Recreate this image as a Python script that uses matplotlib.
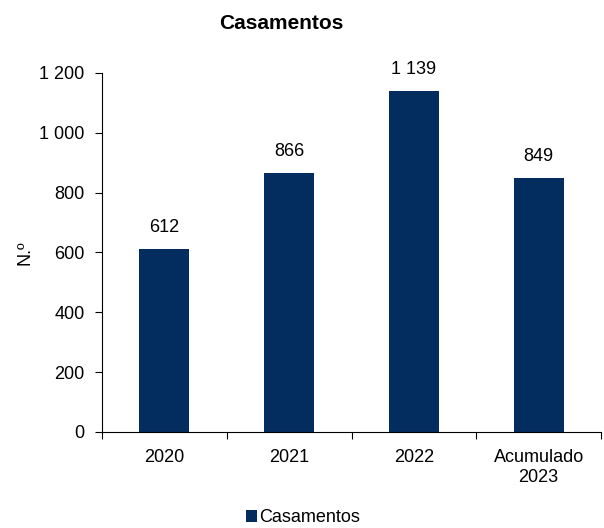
import matplotlib
matplotlib.use("Agg")
import matplotlib.pyplot as plt
import numpy as np

categories = ["2020", "2021", "2022", "Acumulado\n2023"]
values = [612, 866, 1139, 849]
labels = ["612", "866", "1 139", "849"]
yticks = [0, 200, 400, 600, 800, 1000, 1200]
ytick_labels = ["0", "200", "400", "600", "800", "1 000", "1 200"]

plt.rcParams['font.family'] = ['Liberation Sans', 'DejaVu Sans']
fs = 13

fig = plt.figure(figsize=(6.04, 5.28), dpi=100)
ax = fig.add_axes([0.169, 0.182, 0.826, 0.68])
x = np.arange(len(categories))
color = '#022D5E'
bars = ax.bar(x, values, width=0.4, color=color, label='Casamentos')
for xi, v, lab in zip(x, values, labels):
    ax.annotate(lab, (xi, v), xytext=(0, 9.5), textcoords='offset points',
                ha='center', va='bottom', fontsize=fs)
ax.set_xlim(-0.5, len(categories) - 0.5)
ax.set_ylim(0, 1200)
ax.set_yticks(yticks)
ax.set_yticklabels(ytick_labels, fontsize=fs)
ax.set_xticks(x)
ax.set_xticklabels(categories, fontsize=fs, linespacing=1.25)
ax.tick_params(axis='x', length=0, pad=12)
ax.set_xticks(np.arange(-0.5, len(categories)), minor=True)
ax.tick_params(axis='x', which='minor', length=5, direction='out', width=0.8)
ax.tick_params(axis='y', length=5, width=0.8, pad=7.5)
for s in ['top', 'right']:
    ax.spines[s].set_visible(False)
for s in ['left', 'bottom']:
    ax.spines[s].set_linewidth(0.8)
ax.set_ylabel('N.º', fontsize=fs, labelpad=4.5)
fig.text(0.465, 0.955, 'Casamentos', ha='center', va='center', fontsize=15, fontweight='bold')
fig.legend(handles=[bars], labels=['Casamentos'], loc='center', bbox_to_anchor=(0.502, 0.019),
           frameon=False, fontsize=fs, handlelength=0.6, handleheight=0.6, handletextpad=0.15)
fig.savefig('out.png', dpi=100)
